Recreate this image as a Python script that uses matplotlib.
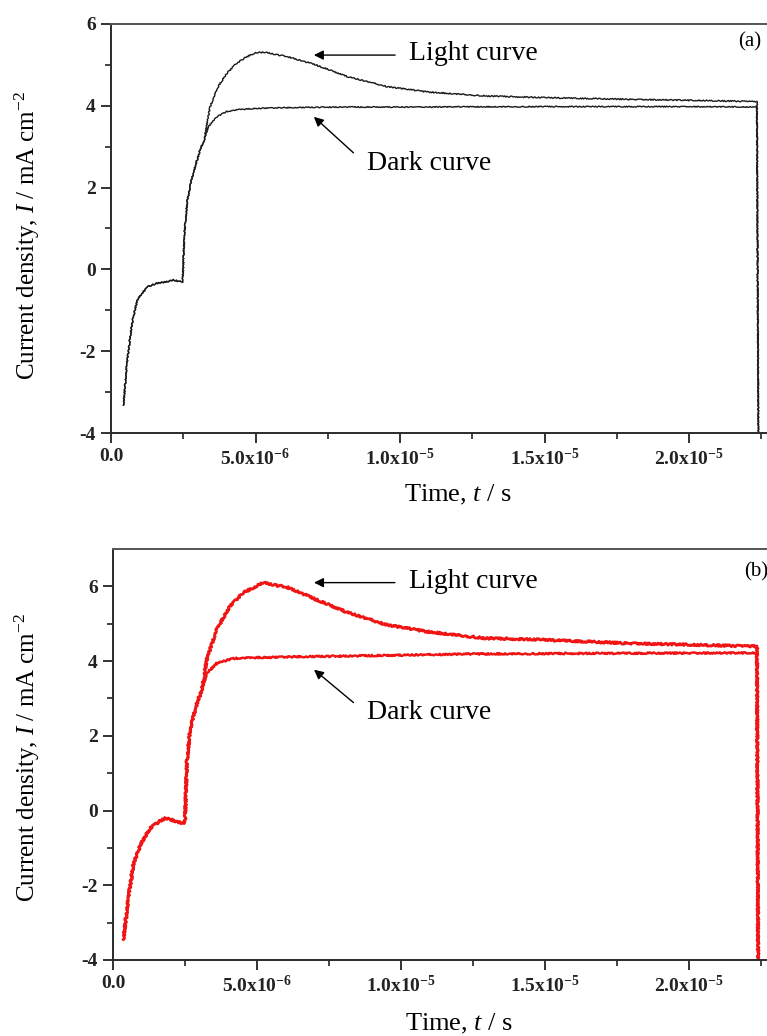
import matplotlib
matplotlib.use("Agg")
import matplotlib.pyplot as plt
from matplotlib.ticker import FixedLocator

plt.rcParams['font.family'] = ['Liberation Serif', 'DejaVu Serif']
plt.rcParams['mathtext.fontset'] = 'custom'
plt.rcParams['mathtext.rm'] = 'Liberation Serif'
plt.rcParams['mathtext.it'] = 'Liberation Serif:italic'
plt.rcParams['mathtext.bf'] = 'Liberation Serif:bold'

US = 1e-6

# ---- panel (a): black curves (time in microseconds, current in mA cm^-2) ----
t_a_common = [0.43, 0.54, 0.68, 0.77, 0.91, 1.06, 1.29, 1.58, 1.93, 2.16, 2.39, 2.48,
              2.54, 2.64, 2.76, 2.91, 3.08, 3.22]
i_a_common = [-3.32, -2.38, -1.56, -1.16, -0.75, -0.59, -0.42, -0.34, -0.30, -0.26, -0.30, -0.30,
              0.88, 1.69, 2.10, 2.51, 2.92, 3.16]

t_a_light = [3.43, 3.71, 4.00, 4.35, 4.70, 5.00, 5.30, 6.12, 7.09, 8.20, 9.55, 10.93, 13.0,
             15.0, 17.75, 20.5, 22.35, 22.40]
i_a_light = [3.98, 4.47, 4.79, 5.04, 5.20, 5.30, 5.31, 5.20, 5.00, 4.71, 4.47, 4.34, 4.24,
             4.20, 4.16, 4.13, 4.10, -4.0]

t_a_dark = [3.37, 3.66, 4.00, 4.46, 5.16, 6.50, 8.00, 10.0, 15.0, 20.0, 22.35, 22.40]
i_a_dark = [3.49, 3.73, 3.86, 3.91, 3.94, 3.96, 3.97, 3.97, 3.98, 3.98, 3.97, -4.0]

# ---- panel (b): red curves ----
t_b_common = [0.36, 0.53, 0.70, 0.94, 1.28, 1.63, 1.81, 1.98, 2.21, 2.42, 2.50,
              2.56, 2.67, 2.91, 3.08]
i_b_common = [-3.45, -2.37, -1.47, -0.93, -0.48, -0.28, -0.21, -0.23, -0.30, -0.34, -0.30,
              1.24, 2.14, 2.86, 3.22]

t_b_light = [3.25, 3.60, 4.06, 4.52, 4.99, 5.19, 6.08, 7.05, 8.15, 9.51, 10.89, 12.95,
             15.0, 17.74, 20.5, 22.36, 22.40]
i_b_light = [4.03, 4.84, 5.47, 5.83, 6.01, 6.10, 5.97, 5.65, 5.30, 4.97, 4.79, 4.61,
             4.57, 4.48, 4.43, 4.39, -4.0]

t_b_dark = [3.25, 3.60, 4.18, 4.87, 6.60, 8.50, 12.4, 17.7, 22.36, 22.40]
i_b_dark = [3.67, 3.94, 4.07, 4.09, 4.12, 4.14, 4.19, 4.21, 4.22, -4.0]

# ---- axis ticks ----
x_major = [0.0, 5e-6, 1e-5, 1.5e-5, 2e-5]
x_major_labels = ['0.0', r'5.0x10$^{\mathbf{-6}}$', r'1.0x10$^{\mathbf{-5}}$',
                  r'1.5x10$^{\mathbf{-5}}$', r'2.0x10$^{\mathbf{-5}}$']
x_minor = [2.5e-6, 7.5e-6, 1.25e-5, 1.75e-5, 2.25e-5]
y_major = [-4, -2, 0, 2, 4, 6]
y_major_labels = ['-4', '-2', '0', '2', '4', '6']
y_minor = [-3, -1, 1, 3, 5]

W, H = 767, 1036
fig = plt.figure(figsize=(W / 100, H / 100), dpi=100)

ax_a = fig.add_axes([111 / W, 603 / H, 664.7 / W, 409 / H])
ax_b = fig.add_axes([113 / W, 76 / H, 662.4 / W, 411 / H])


def series(common_t, common_i, t, i):
    tt = [v * US for v in common_t + t]
    return tt, common_i + i


def style_axes(ax, ylim, ylab_x, ylab_y, xlab_x, xlab_y):
    ax.set_xlim(0, 2.3e-5)
    ax.set_ylim(*ylim)
    for side in ('left', 'bottom', 'top'):
        ax.spines[side].set_linewidth(1.4)
        ax.spines[side].set_color('#2b2b2b')
    ax.spines['top'].set_color('#555555')
    ax.spines['right'].set_visible(False)
    ax.xaxis.set_major_locator(FixedLocator(x_major))
    ax.xaxis.set_minor_locator(FixedLocator(x_minor))
    ax.set_xticklabels(x_major_labels, fontweight='bold')
    ax.yaxis.set_major_locator(FixedLocator(y_major))
    ax.yaxis.set_minor_locator(FixedLocator(y_minor))
    ax.set_yticklabels(y_major_labels, fontweight='bold')
    ax.tick_params(which='major', direction='out', length=7, width=1.3,
                   labelsize=14, colors='#222222', pad=4)
    ax.tick_params(which='minor', direction='out', length=4, width=1.2, colors='#222222')
    ax.tick_params(top=False, right=False)
    ax.set_ylabel(r'Current density, $I$ / mA cm$^{-2}$', fontsize=18)
    ax.set_xlabel(r'Time, $t$ / s', fontsize=19)
    ax.yaxis.set_label_coords(ylab_x, ylab_y)
    ax.xaxis.set_label_coords(xlab_x, xlab_y)


def draw_curve(ax, t, i, color, lw, sketch):
    line, = ax.plot(t, i, color=color, lw=lw, solid_joinstyle='round')
    if sketch:
        line.set_sketch_params(scale=sketch, length=2.0, randomness=3.0)
    return line


def annotate(ax, light_xy, light_tail, light_text, dark_xy, dark_tail, dark_text, tag, tag_xy):
    ap = dict(arrowstyle='-|>', color='black', lw=1.0, mutation_scale=14,
              shrinkA=0, shrinkB=0)
    ax.annotate('', xy=light_xy, xytext=light_tail, arrowprops=ap)
    ax.text(*light_text, 'Light curve', fontsize=20, ha='left', va='center')
    ax.annotate('', xy=dark_xy, xytext=dark_tail, arrowprops=ap)
    ax.text(*dark_text, 'Dark curve', fontsize=20, ha='left', va='center')
    ax.text(*tag_xy, tag, fontsize=15, ha='left', va='center')


# panel (a)
style_axes(ax_a, (-4, 6), -0.104, 0.484, 0.522, -0.122)
ta, ia = series(t_a_common, i_a_common, t_a_light, i_a_light)
draw_curve(ax_a, ta, ia, '#1a1a1a', 1.0, 0.6)
td, idk = series(t_a_common, i_a_common, t_a_dark, i_a_dark)
draw_curve(ax_a, td, idk, '#1a1a1a', 1.0, 0.5)
annotate(ax_a,
         (7.02e-6, 5.24), (9.83e-6, 5.24), (1.031e-5, 5.29),
         (7.02e-6, 3.73), (8.39e-6, 2.85), (8.86e-6, 2.60),
         '(a)', (2.17e-5, 5.57))

# panel (b)
style_axes(ax_b, (-4, 7), -0.107, 0.494, 0.522, -0.127)
tb, ib = series(t_b_common, i_b_common, t_b_light, i_b_light)
draw_curve(ax_b, tb, ib, '#f01414', 2.0, 1.0)
tbd, ibd = series(t_b_common, i_b_common, t_b_dark, i_b_dark)
draw_curve(ax_b, tbd, ibd, '#f01414', 1.7, 0.8)
annotate(ax_b,
         (6.98e-6, 6.10), (9.79e-6, 6.10), (1.028e-5, 6.12),
         (6.98e-6, 3.77), (8.35e-6, 2.89), (8.82e-6, 2.62),
         '(b)', (2.19e-5, 6.38))

fig.savefig('out.png', dpi=100)
